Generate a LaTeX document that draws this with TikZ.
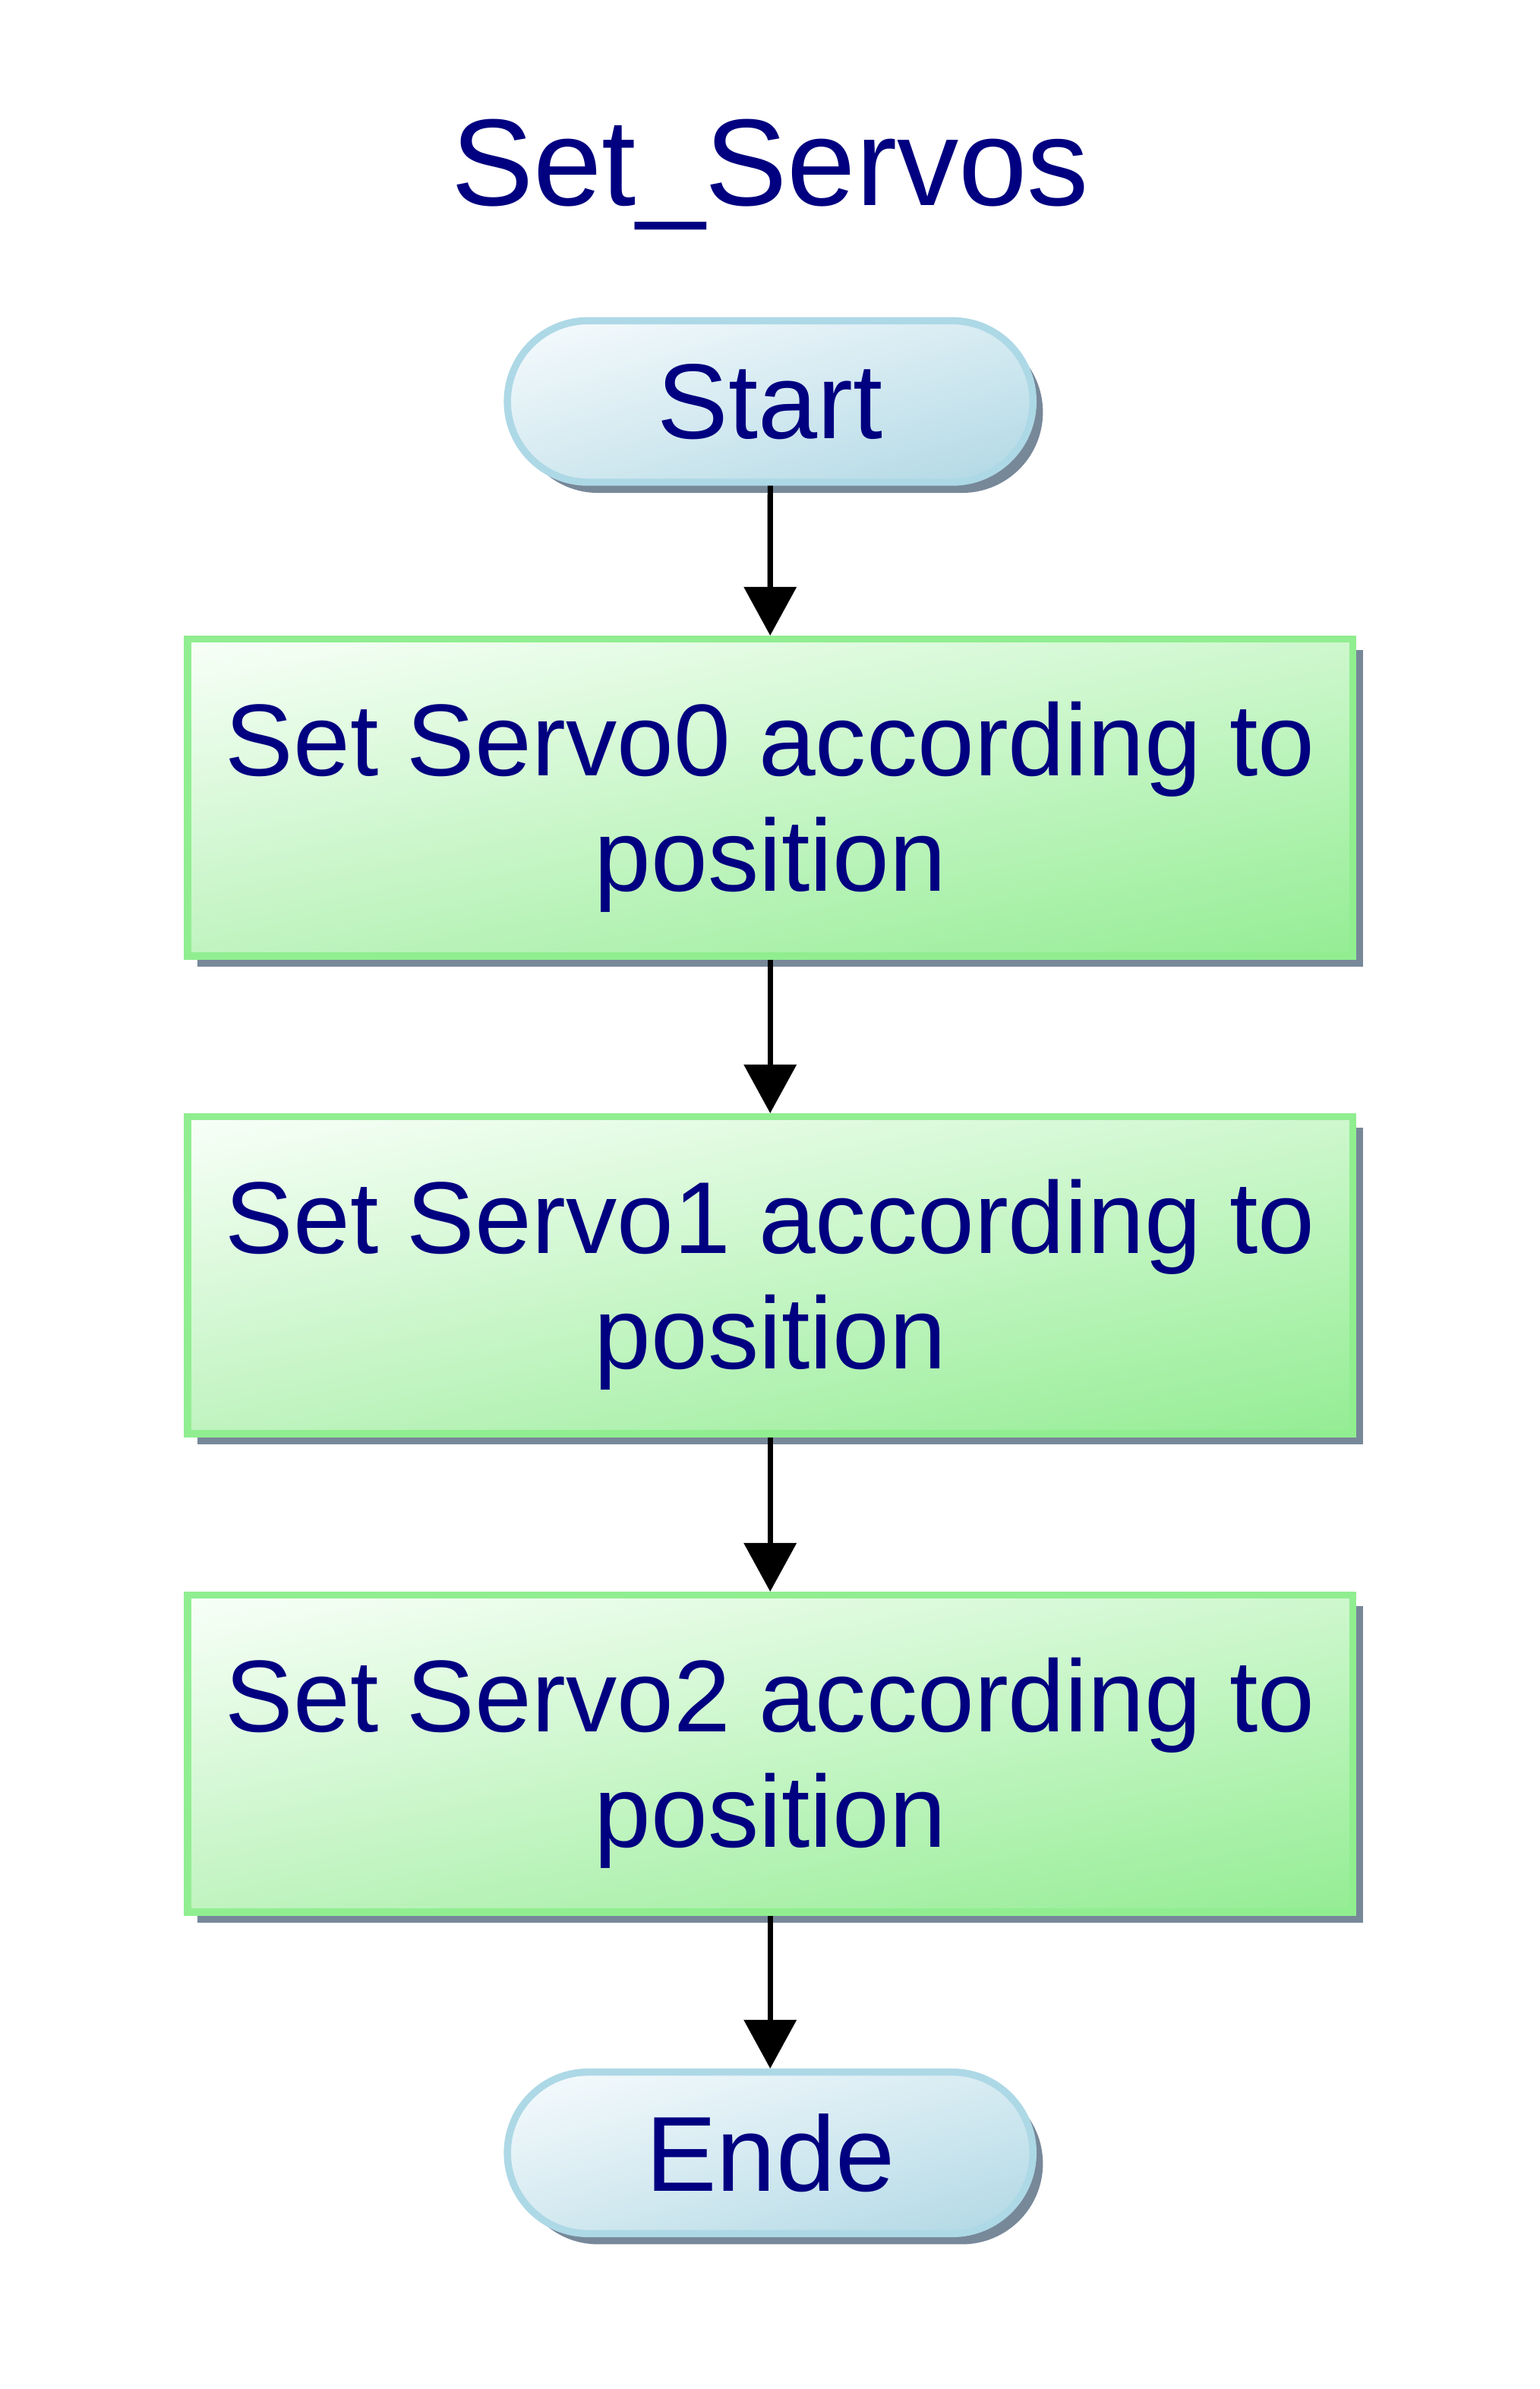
\documentclass[tikz,border=0pt]{standalone}
\usepackage{fontspec}
\setmainfont{Liberation Sans}
\usetikzlibrary{arrows.meta,shapes.misc,shadows,shadings}
\definecolor{navytext}{RGB}{0,0,128}
\definecolor{boxgreen}{RGB}{144,238,144}
\definecolor{termblue}{RGB}{173,216,230}
\definecolor{shadowgray}{RGB}{119,136,153}
\definecolor{gUL}{RGB}{248,255,248}
\definecolor{gUR}{RGB}{206,247,206}
\definecolor{gLL}{RGB}{192,243,192}
\definecolor{gLR}{RGB}{148,237,148}
\definecolor{bUL}{RGB}{247,251,253}
\definecolor{bUR}{RGB}{214,235,242}
\definecolor{bLL}{RGB}{211,233,240}
\definecolor{bLR}{RGB}{176,216,229}
\newcommand{\mystrut}{\rule{0pt}{61pt}}
\tikzset{
  procbox/.style={rectangle, draw=boxgreen, line width=4.7pt,
    minimum width=765pt, minimum height=208pt, inner sep=0pt,
    align=center, text=navytext, font=\fontsize{67}{76}\selectfont,
    shade, upper left=gUL, upper right=gUR, lower left=gLL, lower right=gLR,
    drop shadow={opacity=1, fill=shadowgray, shadow xshift=6.5pt, shadow yshift=-7pt}},
  termbox/.style={rounded rectangle, draw=termblue, line width=4.7pt,
    minimum width=345pt, minimum height=106pt, inner sep=0pt,
    text=navytext, font=\fontsize{70}{80}\selectfont,
    shade, upper left=bUL, upper right=bUR, lower left=bLL, lower right=bLR,
    drop shadow={opacity=1, fill=shadowgray, shadow xshift=6.5pt, shadow yshift=-7pt}},
  flow/.style={draw=black, line width=3.5pt, -{Triangle[length=32pt,width=34pt]}},
  titletext/.style={text=navytext, font=\fontsize{81}{90}\selectfont, inner sep=0pt}
}
\begin{document}
\begin{tikzpicture}[x=1pt,y=-1pt]
  \useasboundingbox[fill=white] (0,0) rectangle (1010.3,1568);
  \node[titletext, anchor=base] (title) at (505.5,135) {Set\_Servos};
  \node[termbox] (start) at (505.5,263.5) {Start};
  \node[procbox] (b1) at (505.5,523.5) {\mystrut Set Servo0 according to\\position};
  \node[procbox] (b2) at (505.5,837) {\mystrut Set Servo1 according to\\position};
  \node[procbox] (b3) at (505.5,1151) {\mystrut Set Servo2 according to\\position};
  \node[termbox] (ende) at (505.5,1413) {Ende};
  \draw[flow] (start) -- (b1);
  \draw[flow] (b1) -- (b2);
  \draw[flow] (b2) -- (b3);
  \draw[flow] (b3) -- (ende);
\end{tikzpicture}
\end{document}
